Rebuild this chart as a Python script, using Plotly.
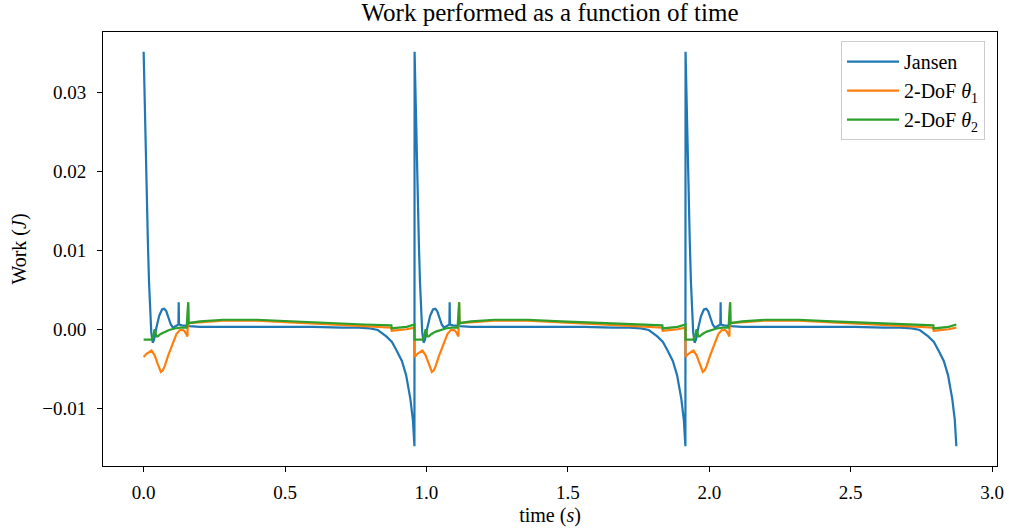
import numpy as np
import plotly.graph_objects as go

# ---- data (one gait cycle; repeated for 3 cycles) ----
PERIOD = 0.958
N_CYCLES = 3

jansen_t = [0.000, 0.003, 0.007, 0.011, 0.015, 0.019, 0.023, 0.027, 0.032, 0.037,
            0.045, 0.055, 0.065, 0.073, 0.080, 0.088, 0.096, 0.104, 0.110, 0.116,
            0.123, 0.124, 0.125, 0.135, 0.150, 0.160, 0.200, 0.300, 0.400, 0.500,
            0.600, 0.700, 0.760, 0.800, 0.828, 0.858, 0.878, 0.893, 0.913, 0.928,
            0.943, 0.952, 0.9575]
jansen_w = [0.0351, 0.0295, 0.0225, 0.0168, 0.0110, 0.0060, 0.0021, -0.0004, -0.0017, -0.0013,
            0.0002, 0.0017, 0.0025, 0.0026, 0.0023, 0.0014, 0.0006, 0.0002, 0.0003, 0.0005,
            0.0006, 0.0034, 0.0006, 0.0005, 0.0004, 0.0004, 0.0003, 0.0003, 0.0003, 0.0003,
            0.0003, 0.0002, 0.0002, 0.0001, -0.0001, -0.0009, -0.0016, -0.0026, -0.0040, -0.0058,
            -0.0088, -0.0115, -0.0148]

theta1_t = [0.000, 0.010, 0.028, 0.039, 0.050, 0.061, 0.068, 0.075, 0.086, 0.098,
            0.108, 0.116, 0.128, 0.140, 0.146, 0.155, 0.1575, 0.159, 0.170, 0.200,
            0.280, 0.400, 0.520, 0.650, 0.780, 0.876, 0.877, 0.900, 0.930, 0.9575]
theta1_w = [-0.0035, -0.0031, -0.0027, -0.0033, -0.0044, -0.0054, -0.0052, -0.0046, -0.0034, -0.0023,
            -0.0013, -0.0006, -0.0001, -0.0001, -0.0003, -0.0009, 0.0034, 0.0008, 0.0008, 0.0009,
            0.0011, 0.0011, 0.0009, 0.0007, 0.0004, 0.0002, -0.0002, -0.0001, 0.0000, 0.0002]

theta2_t = [0.000, 0.028, 0.034, 0.039, 0.045, 0.050, 0.060, 0.075, 0.090, 0.110,
            0.130, 0.152, 0.1575, 0.159, 0.164, 0.200, 0.282, 0.400, 0.518, 0.650,
            0.780, 0.876, 0.877, 0.900, 0.930, 0.9575]
theta2_w = [-0.0013, -0.0013, -0.0008, 0.0000, -0.0009, -0.0009, -0.0006, -0.0003, -0.0001, 0.0001,
            0.0002, 0.0002, 0.0034, 0.0007, 0.0008, 0.0010, 0.0012, 0.0012, 0.0010, 0.0008,
            0.0006, 0.0005, 0.0001, 0.0002, 0.0003, 0.0006]

series_names = ["Jansen", "2-DoF <i>θ</i><sub>1</sub>", "2-DoF <i>θ</i><sub>2</sub>"]
series_colors = ["#1f77b4", "#ff7f0e", "#2ca02c"]

x_ticks = [0.0, 0.5, 1.0, 1.5, 2.0, 2.5, 3.0]
y_ticks = [-0.01, 0.00, 0.01, 0.02, 0.03]


def tile(t, w):
    tt, ww = [], []
    for k in range(N_CYCLES):
        tt.extend([v + k * PERIOD for v in t])
        ww.extend(w)
    return tt, ww


FONT = "Liberation Serif"
fig = go.Figure()
for (t, w), name, col in zip([(jansen_t, jansen_w), (theta1_t, theta1_w), (theta2_t, theta2_w)],
                             series_names, series_colors):
    tt, ww = tile(t, w)
    fig.add_trace(go.Scatter(x=tt, y=ww, mode="lines", name=name,
                             line=dict(color=col, width=2.2)))

all_t = [v for t in (jansen_t, theta1_t, theta2_t) for v in tile(t, t)[0]]
all_w = jansen_w + theta1_w + theta2_w
xmin, xmax = min(all_t), max(all_t)
ymin, ymax = min(all_w), max(all_w)
xpad = 0.05 * (xmax - xmin)
ypad = 0.05 * (ymax - ymin)

axis_common = dict(showline=True, linecolor="black", linewidth=1, mirror=True,
                   ticks="outside", ticklen=5, tickcolor="black", tickwidth=1,
                   showgrid=False, zeroline=False, automargin=False,
                   tickfont=dict(family=FONT, size=19, color="black"))

fig.update_layout(
    width=1009, height=532,
    margin=dict(l=103, r=12, t=32, b=66, autoexpand=False),
    paper_bgcolor="white", plot_bgcolor="white",
    title=dict(text="Work performed as a function of time", x=0.5, xref="paper",
               y=0.977, yref="container", yanchor="middle", xanchor="center",
               font=dict(family=FONT, size=25, color="black")),
    xaxis=dict(range=[xmin - xpad, xmax + xpad], tickvals=x_ticks, tickformat=".1f",
               ticklabelstandoff=4,
               title=dict(text="time (<i>s</i>)", standoff=6,
                          font=dict(family=FONT, size=20, color="black")),
               **axis_common),
    yaxis=dict(range=[ymin - ypad, ymax + ypad], tickvals=y_ticks, tickformat=".2f",
               ticklabelstandoff=7,
               title=dict(text="Work (<i>J</i>)", standoff=10,
                          font=dict(family=FONT, size=20, color="black")),
               **axis_common),
    legend=dict(x=0.9866, y=0.979, xanchor="right", yanchor="top",
                bgcolor="rgba(255,255,255,0.85)", bordercolor="#cccccc", borderwidth=1,
                itemwidth=52,
                font=dict(family=FONT, size=20, color="black"), tracegroupgap=4),
    showlegend=True,
)

fig.write_html("out.html")
